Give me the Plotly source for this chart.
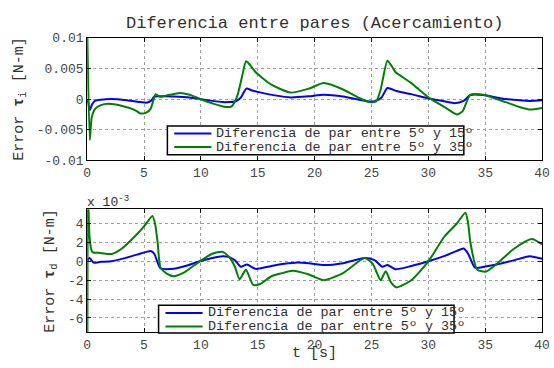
import plotly.graph_objects as go

# ---------------- data ----------------
title_text = "Diferencia entre pares (Acercamiento)"
name_15 = "Diferencia de par entre 5º y 15º"
name_35 = "Diferencia de par entre 5º y 35º"

# Top plot: error tau_i [N-m]
t_top_15 = [0, 0.1, 0.23, 0.45, 0.72, 1.2, 2.15, 3.5, 4.7, 5.2, 5.6, 5.9, 6.5, 7.6, 9.0, 9.9,
            11.0, 11.9, 12.5, 13.0, 13.5, 14.0, 14.5, 15.3, 16.5, 17.9, 19.5, 20.8, 22.5, 24.8,
            25.4, 25.9, 26.4, 27.2, 28.5, 30, 31.5, 32.3, 33.1, 33.7, 34.8, 36.8, 38.9, 40]
e_top_15 = [0, -0.6e-3, -1.8e-3, -0.8e-3, -0.26e-3, -0.1e-3, 0, -0.2e-3, -0.5e-3, -0.6e-3, -0.3e-3,
            0.4e-3, 0.45e-3, 0.4e-3, 0.25e-3, 0, -0.3e-3, -0.5e-3, -0.5e-3, -0.4e-3, 0.2e-3, 1.7e-3,
            1.4e-3, 1.05e-3, 0.6e-3, 0.27e-3, 0.45e-3, 0.7e-3, 0.42e-3, -0.4e-3, -0.3e-3, 0.3e-3,
            1.8e-3, 1.3e-3, 0.8e-3, 0.1e-3, -0.4e-3, -0.67e-3, -0.3e-3, 0.65e-3, 0.65e-3, 0,
            -0.3e-3, -0.2e-3]

t_top_35 = [0, 0.23, 0.4, 0.72, 1.2, 1.86, 3.0, 4.2, 4.7, 5.2, 5.59, 6.02, 6.4, 7.0, 8.17, 9.0,
            9.9, 11.0, 12.2, 12.7, 13.2, 13.6, 13.97, 14.3, 14.8, 16.2, 17.9, 19.5, 20.8, 22.5,
            24.0, 24.8, 25.4, 25.8, 26.4, 26.8, 27.1, 28.5, 30, 31.5, 32.5, 33.0, 33.7, 34.8,
            36.8, 38.0, 38.9, 40]
e_top_35 = [12e-3, -6.67e-3, -3.0e-3, -1.56e-3, -1.0e-3, -0.78e-3, -1.1e-3, -1.8e-3, -2.34e-3,
            -2.2e-3, -1.56e-3, 0.78e-3, 0.35e-3, 0.6e-3, 1.0e-3, 0.7e-3, 0.05e-3, -0.7e-3,
            -1.3e-3, -1.2e-3, 0.5e-3, 3.5e-3, 6.15e-3, 5.6e-3, 4.4e-3, 2.35e-3, 1.05e-3, 1.7e-3,
            2.6e-3, 1.56e-3, 0.1e-3, -0.5e-3, -0.4e-3, 1.5e-3, 6.25e-3, 5.3e-3, 4.4e-3, 2.6e-3,
            0.27e-3, -1.4e-3, -2.5e-3, -2.0e-3, 0.7e-3, 0.7e-3, -0.5e-3, -1.3e-3, -1.7e-3, -1.45e-3]

# Bottom plot: error tau_d, in units of 1e-3 N-m
t_bot_15 = [0, 0.2, 0.57, 1.2, 2.15, 3.5, 4.5, 5.2, 5.6, 5.9, 6.45, 7.6, 8.8, 9.9, 11.0, 11.9,
            12.5, 13.0, 13.5, 14.05, 14.8, 15.9, 17.0, 18.3, 19.5, 20.8, 22.5, 24.4, 25.3, 25.95,
            26.4, 27.1, 28.5, 30, 31.5, 32.5, 33.1, 33.5, 34.1, 35.0, 36.0, 37.5, 38.9, 40]
e_bot_15 = [0, 0.34, -0.14, -0.05, 0, 0.4, 0.75, 1.0, 1.1, 0.8, -0.74, -0.8, -0.45, 0, 0.35,
            0.54, 0.44, 0.1, -0.57, -0.34, -0.8, -0.57, -0.3, -0.14, -0.2, -0.4, -0.2, 0.34, 0.1,
            -0.57, -0.4, -0.84, -0.5, 0, 0.6, 1.1, 1.35, 0.8, -0.67, -0.55, -0.34, 0.1, 0.54, 0.27]

t_bot_35 = [0, 0.05, 0.2, 0.35, 0.49, 1.0, 2.15, 3.0, 4.16, 5.0, 5.74, 6.0, 6.2, 6.45, 7.0, 7.6,
            8.5, 9.9, 11.0, 11.9, 12.5, 13.0, 13.4, 13.96, 14.6, 15.2, 16.2, 17.0, 18.1, 19.5,
            20.8, 22.5, 24.4, 25.1, 25.8, 26.25, 26.7, 27.2, 28.5, 30, 31.4, 32.5, 33.26, 33.5,
            33.7, 34.3, 35.1, 36.0, 37.5, 39.1, 40]
e_bot_35 = [-20, 8, 2.8, 1.3, 0.94, 0.9, 0.78, 1.3, 2.6, 3.7, 4.8, 3.8, 1.95, -0.67, -1.3, -1.58,
            -1.2, 0, 0.8, 1.0, 0.43, -0.6, -1.9, -0.9, -2.5, -2.4, -1.58, -1.3, -1.0, -1.4, -2.0,
            -1.25, 0.34, -0.24, -2.0, -1.05, -2.2, -2.76, -2.0, 0, 2.6, 4.0, 5.15, 4.0, 1.95,
            -0.9, -1.08, -0.3, 1.3, 2.36, 1.78]

x_ticks = [0, 5, 10, 15, 20, 25, 30, 35, 40]
y_top_ticks = [-0.01, -0.005, 0, 0.005, 0.01]
y_top_labels = ["-0.01", "-0.005", "0", "0.005", "0.01"]
y_bot_ticks = [-6, -4, -2, 0, 2, 4]
y_bot_labels = ["-6", "-4", "-2", "0", "2", "4"]

# ---------------- figure ----------------
FONT = "Liberation Mono, Courier New, monospace"
BLUE = "#0000ff"
GREEN = "#008000"
TXT = "#303030"
W, H = 554, 368


def px(x):
    return x / W


def py(y):
    return 1 - y / H


fig = go.Figure()
line_kw = dict(shape="spline", smoothing=0.6, width=2)
fig.add_trace(go.Scatter(x=t_top_15, y=e_top_15, mode="lines", name=name_15,
                         line=dict(color=BLUE, **line_kw), xaxis="x", yaxis="y"))
fig.add_trace(go.Scatter(x=t_top_35, y=e_top_35, mode="lines", name=name_35,
                         line=dict(color=GREEN, **line_kw), xaxis="x", yaxis="y"))
fig.add_trace(go.Scatter(x=t_bot_15, y=e_bot_15, mode="lines", name=name_15,
                         line=dict(color=BLUE, **line_kw), xaxis="x2", yaxis="y2"))
fig.add_trace(go.Scatter(x=t_bot_35, y=e_bot_35, mode="lines", name=name_35,
                         line=dict(color=GREEN, **line_kw), xaxis="x2", yaxis="y2"))

x0, x1 = px(85), px(550)
top_dom = [py(161), py(33)]
bot_dom = [py(340), py(212)]

axis_common = dict(showline=True, linecolor="black", linewidth=1, mirror="ticks",
                   ticks="inside", ticklen=4, tickcolor="black",
                   showgrid=True, gridcolor="#a0a0a0", griddash="dot", gridwidth=1,
                   zeroline=False, ticklabeloverflow="allow",
                   tickfont=dict(family=FONT, size=13, color="#454545"))

fig.update_layout(
    width=W, height=H, margin=dict(l=0, r=0, t=0, b=0),
    paper_bgcolor="white", plot_bgcolor="white",
    font=dict(family=FONT, color=TXT),
    showlegend=False,
    xaxis=dict(domain=[x0, x1], range=[0, 40], tickvals=x_ticks, anchor="y", **axis_common),
    yaxis=dict(domain=top_dom, range=[-0.01, 0.01], tickvals=y_top_ticks,
               ticktext=y_top_labels, anchor="x", **axis_common),
    xaxis2=dict(domain=[x0, x1], range=[0, 40], tickvals=x_ticks, anchor="y2", **axis_common),
    yaxis2=dict(domain=bot_dom, range=[-7.5, 5.5], tickvals=y_bot_ticks,
                ticktext=y_bot_labels, anchor="x2", **axis_common),
)

ann = []
shapes = []
ann.append(dict(text=title_text, x=px((85 + 550) / 2), y=py(18), xref="paper", yref="paper",
                showarrow=False, font=dict(family=FONT, size=17, color=TXT),
                xanchor="center", yanchor="middle"))
ann.append(dict(text="Error <b>τ</b><sub>i</sub> [N-m]", x=px(16), y=py(97),
                xref="paper", yref="paper", showarrow=False, textangle=-90,
                font=dict(family=FONT, size=15, color=TXT),
                xanchor="center", yanchor="middle"))
ann.append(dict(text="Error <b>τ</b><sub>d</sub> [N-m]", x=px(48), y=py(276),
                xref="paper", yref="paper", showarrow=False, textangle=-90,
                font=dict(family=FONT, size=15, color=TXT),
                xanchor="center", yanchor="middle"))
ann.append(dict(text="t [s]", x=px((85 + 550) / 2), y=py(362), xref="paper", yref="paper",
                showarrow=False, font=dict(family=FONT, size=15, color=TXT),
                xanchor="center", yanchor="middle"))
ann.append(dict(text="x 10<sup>-3</sup>", x=px(83), y=py(204), xref="paper", yref="paper",
                showarrow=False, font=dict(family=FONT, size=13, color=TXT),
                xanchor="left", yanchor="middle"))

# Legend boxes (drawn by hand to match the compact MATLAB legend)
legends = [
    dict(box=(167, 125, 470, 155), lx=(174, 212), tx=215, rows=(133, 147)),
    dict(box=(158, 312, 460, 341), lx=(165, 203), tx=206, rows=(320, 334)),
]
for lg in legends:
    bx0, by0, bx1, by1 = lg["box"]
    shapes.append(dict(type="rect", xref="paper", yref="paper",
                       x0=px(bx0), x1=px(bx1), y0=py(by1), y1=py(by0),
                       fillcolor="white", line=dict(color="black", width=1.5), layer="above"))
    for (name, col), ry in zip([(name_15, BLUE), (name_35, GREEN)], lg["rows"]):
        shapes.append(dict(type="line", xref="paper", yref="paper",
                           x0=px(lg["lx"][0]), x1=px(lg["lx"][1]), y0=py(ry), y1=py(ry),
                           line=dict(color=col, width=2), layer="above"))
        ann.append(dict(text=name, x=px(lg["tx"]), y=py(ry), xref="paper", yref="paper",
                        showarrow=False, font=dict(family=FONT, size=13.4, color=TXT),
                        xanchor="left", yanchor="middle"))

fig.update_layout(annotations=ann, shapes=shapes)

fig.write_html(
    "out.html",
    post_script="document.body.style.margin='0';document.documentElement.style.margin='0';"
                "document.body.style.overflow='hidden';",
)
